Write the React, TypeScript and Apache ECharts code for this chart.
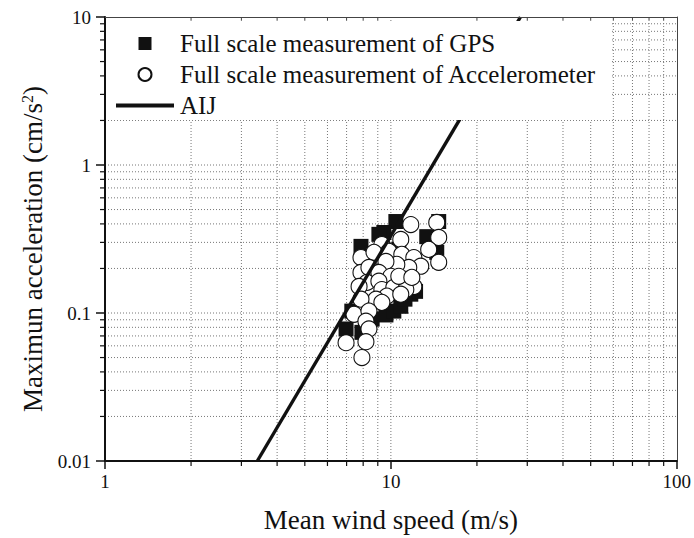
import React, { useEffect, useRef } from "react";
import * as echarts from "echarts";

const GPS_SPEED = [10.41, 9.45, 7.86, 14.7, 13.35, 14.47, 6.97, 7.92, 9.61, 10.24, 10.83, 11.74, 12.2, 8.6, 7.3, 10.66, 9.08, 11.2];
const GPS_ACC = [0.415, 0.35, 0.282, 0.415, 0.328, 0.257, 0.078, 0.074, 0.097, 0.103, 0.111, 0.134, 0.14, 0.091, 0.103, 0.27, 0.34, 0.124];

const ACC_SPEED = [11.74, 14.47, 14.7, 10.83, 13.56, 14.7, 9.3, 7.86, 7.86, 8.73, 9.84, 10.92, 12.03, 12.72, 11.55, 10.49, 9.61, 8.38, 9.08, 10.0, 11.28, 12.03, 8.25, 9.08, 7.74, 9.3, 10.24, 11.28, 9.68, 10.83, 8.87, 7.86, 9.3, 7.43, 8.38, 8.18, 8.38, 6.97, 8.18, 7.92, 10.66, 11.84];
const ACC_ACC = [0.396, 0.409, 0.324, 0.314, 0.269, 0.22, 0.29, 0.237, 0.188, 0.257, 0.261, 0.249, 0.237, 0.207, 0.203, 0.213, 0.223, 0.203, 0.188, 0.177, 0.169, 0.151, 0.161, 0.164, 0.151, 0.144, 0.149, 0.144, 0.13, 0.134, 0.124, 0.124, 0.118, 0.098, 0.103, 0.088, 0.078, 0.063, 0.064, 0.05, 0.177, 0.174];

const AIJ_SPEED = [3.41, 28.4];
const AIJ_ACC = [0.01, 10];

const X_GRID = [2, 3, 4, 5, 6, 7, 8, 9, 10, 20, 30, 40, 50, 60, 70, 80, 90];
const Y_GRID = [0.02, 0.03, 0.04, 0.05, 0.06, 0.07, 0.08, 0.09, 0.1, 0.2, 0.3, 0.4, 0.5, 0.6, 0.7, 0.8, 0.9, 1, 2, 3, 4, 5, 6, 7, 8, 9];
const X_MINOR_TICKS = [2, 3, 4, 5, 6, 7, 8, 9, 20, 30, 40, 50, 60, 70, 80, 90];
const Y_MINOR_TICKS = [0.02, 0.03, 0.04, 0.05, 0.06, 0.07, 0.08, 0.09, 0.2, 0.3, 0.4, 0.5, 0.6, 0.7, 0.8, 0.9, 2, 3, 4, 5, 6, 7, 8, 9];

const NAME_GPS = "Full scale measurement of GPS";
const NAME_ACC = "Full scale measurement of Accelerometer";
const NAME_AIJ = "AIJ";

const FONT = "Liberation Serif";
const INK = "#111";

const zip = (a: number[], b: number[]) => a.map((v, i) => [v, b[i]]);
const fmt = (v: number) => String(Number(Number(v).toPrecision(6)));

export default function App() {
  const ref = useRef<HTMLDivElement>(null);
  useEffect(() => {
    if (!ref.current) return;
    const chart = echarts.init(ref.current, null, { renderer: "svg" });
    const gridStyle = { stroke: "#777", lineWidth: 1, lineDash: [1, 2] };
    const option: any = {
      animation: false,
      backgroundColor: "#fff",
      textStyle: { fontFamily: FONT },
      grid: { left: 105, right: 14, top: 17, bottom: 76 },
      xAxis: [
        {
          type: "log",
          logBase: 10,
          min: 1,
          max: 100,
          z: 8,
          axisLine: { lineStyle: { color: INK, width: 2 } },
          axisTick: { length: 8, lineStyle: { color: INK, width: 1.5 } },
          axisLabel: { color: INK, fontSize: 19, fontFamily: FONT, margin: 11, formatter: fmt },
          splitLine: { show: false },
          name: "Mean wind speed (m/s)",
          nameLocation: "middle",
          nameGap: 45,
          nameTextStyle: { color: INK, fontSize: 27, fontFamily: FONT },
        },
        {
          type: "log",
          logBase: 10,
          min: 1,
          max: 100,
          position: "top",
          z: 8,
          axisLine: { lineStyle: { color: "#444", width: 1 } },
          axisTick: { show: false },
          axisLabel: { show: false },
          splitLine: { show: false },
        },
      ],
      yAxis: [
        {
          type: "log",
          logBase: 10,
          min: 0.01,
          max: 10,
          z: 8,
          axisLine: { lineStyle: { color: INK, width: 2 } },
          axisTick: { length: 9, lineStyle: { color: INK, width: 1.5 } },
          axisLabel: { color: INK, fontSize: 19, fontFamily: FONT, margin: 14, formatter: fmt },
          splitLine: { show: false },
          name: "Maximun acceleration (cm/s{sup|2})",
          nameLocation: "middle",
          nameGap: 58,
          nameTextStyle: {
            color: INK,
            fontSize: 27,
            fontFamily: FONT,
            padding: [0, 20, 0, 0],
            rich: { sup: { fontSize: 16, fontFamily: FONT, color: INK, verticalAlign: "top", padding: [0, 0, 12, 0] } },
          },
        },
        {
          type: "log",
          logBase: 10,
          min: 0.01,
          max: 10,
          position: "right",
          z: 8,
          axisLine: { lineStyle: { color: "#444", width: 1 } },
          axisTick: { show: false },
          axisLabel: { show: false },
          splitLine: { show: false },
        },
      ],
      legend: {
        orient: "vertical",
        left: 111,
        top: 26,
        z: 20,
        itemWidth: 58,
        itemHeight: 13,
        itemGap: 6,
        symbolKeepAspect: true,
        textStyle: { color: INK, fontSize: 25, fontFamily: FONT, padding: [0, 0, 0, 1] },
        data: [
          { name: NAME_GPS, icon: "path://M0 0H10V10H0Z" },
          { name: NAME_ACC, icon: "circle" },
          { name: NAME_AIJ, icon: "path://M0 0H58V4H0Z" },
        ],
      },
      graphic: [
        { type: "rect", shape: { x: 107, y: 21, width: 505, height: 99 }, style: { fill: "#fff" }, z: 15, silent: true },
      ],
      series: [
        {
          type: "custom",
          name: "vgrid",
          z: 1,
          silent: true,
          data: X_GRID.map((x) => [x, 1]),
          renderItem: (params: any, api: any) => {
            const cs = params.coordSys;
            const p = api.coord([api.value(0), 1]);
            return { type: "line", shape: { x1: p[0], y1: cs.y, x2: p[0], y2: cs.y + cs.height }, style: gridStyle };
          },
        },
        {
          type: "custom",
          name: "hgrid",
          z: 1,
          silent: true,
          data: Y_GRID.map((y) => [2, y]),
          renderItem: (params: any, api: any) => {
            const cs = params.coordSys;
            const p = api.coord([2, api.value(1)]);
            return { type: "line", shape: { x1: cs.x, y1: p[1], x2: cs.x + cs.width, y2: p[1] }, style: gridStyle };
          },
        },
        {
          type: "scatter",
          name: NAME_GPS,
          z: 3,
          symbol: "rect",
          symbolSize: 15,
          itemStyle: { color: INK, opacity: 1 },
          data: zip(GPS_SPEED, GPS_ACC),
        },
        {
          type: "scatter",
          name: NAME_ACC,
          z: 4,
          symbol: "circle",
          symbolSize: 16,
          itemStyle: { color: "#fff", borderColor: INK, borderWidth: 1.1, opacity: 1 },
          data: zip(ACC_SPEED, ACC_ACC),
        },
        {
          type: "line",
          name: NAME_AIJ,
          z: 5,
          symbol: "none",
          showSymbol: false,
          lineStyle: { color: INK, width: 3.4 },
          itemStyle: { color: INK },
          data: zip(AIJ_SPEED, AIJ_ACC),
        },
        {
          type: "custom",
          name: "xticks",
          z: 18,
          silent: true,
          data: X_MINOR_TICKS.map((x) => [x, 1]),
          renderItem: (params: any, api: any) => {
            const cs = params.coordSys;
            const p = api.coord([api.value(0), 1]);
            const st = { stroke: INK, lineWidth: 1.2 };
            return {
              type: "group",
              children: [
                { type: "line", shape: { x1: p[0], y1: cs.y + cs.height, x2: p[0], y2: cs.y + cs.height + 5 }, style: st },
                { type: "line", shape: { x1: p[0], y1: cs.y, x2: p[0], y2: cs.y + 3 }, style: { stroke: "#444", lineWidth: 1 } },
              ],
            };
          },
        },
        {
          type: "custom",
          name: "yticks",
          z: 18,
          silent: true,
          data: Y_MINOR_TICKS.map((y) => [2, y]),
          renderItem: (params: any, api: any) => {
            const cs = params.coordSys;
            const p = api.coord([2, api.value(1)]);
            return { type: "line", shape: { x1: cs.x - 5, y1: p[1], x2: cs.x, y2: p[1] }, style: { stroke: INK, lineWidth: 1.2 } };
          },
        },
      ],
    };
    chart.setOption(option);
    return () => chart.dispose();
  }, []);
  return <div ref={ref} style={{ position: "fixed", left: 0, top: 0, width: 694, height: 538 }} />;
}
